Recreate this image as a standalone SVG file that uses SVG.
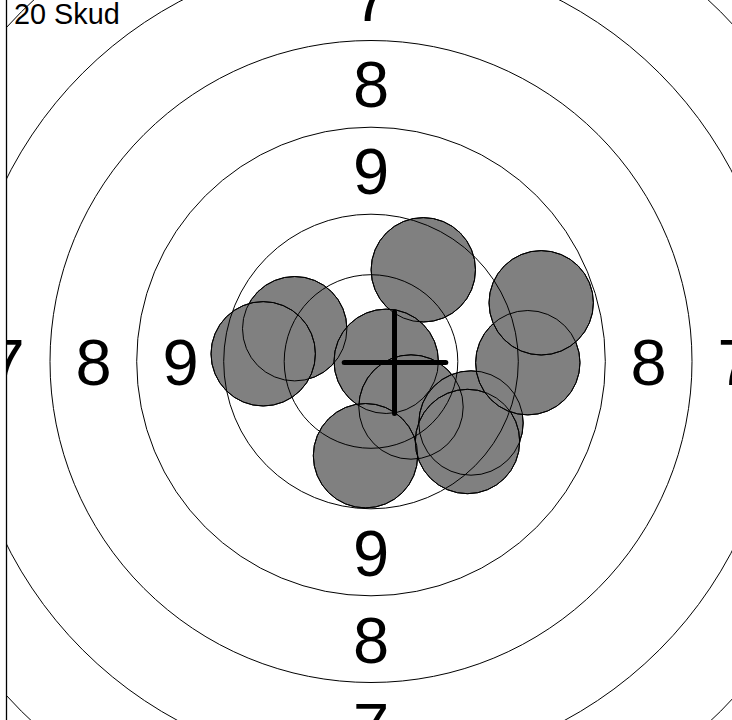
<svg xmlns="http://www.w3.org/2000/svg" width="732" height="720" viewBox="0 0 732 720">
<style>
.lbl{font-family:"Liberation Sans",Arial,sans-serif;font-size:65px;fill:#000;text-anchor:middle}
.ring{fill:none;stroke:#000;stroke-width:1}
.shot{fill:#808080;stroke:#000;stroke-width:1}
.cross{stroke:#000;stroke-width:5;stroke-linecap:round}
</style>
<defs>
<clipPath id="clip"><rect x="7" y="0" width="725" height="720"/></clipPath>
</defs>
<rect x="0" y="0" width="732" height="720" fill="#fff"/>
<g clip-path="url(#clip)">
<g id="labels">
<text class="lbl" x="371" y="20.8">7</text>
<text class="lbl" x="371" y="107.1">8</text>
<text class="lbl" x="371" y="193.8">9</text>
<text class="lbl" x="371" y="575.8">9</text>
<text class="lbl" x="371" y="662.5">8</text>
<text class="lbl" x="371" y="749.3">7</text>
<text class="lbl" x="6.5" y="384.8">7</text>
<text class="lbl" x="93.5" y="384.8">8</text>
<text class="lbl" x="180.5" y="384.8">9</text>
<text class="lbl" x="561.5" y="384.8">9</text>
<text class="lbl" x="648.5" y="384.8">8</text>
<text class="lbl" x="735.5" y="384.8">7</text>
</g>
<g id="shots">
<circle class="shot" cx="423.3" cy="269.8" r="52.2"/>
<circle class="shot" cx="294.7" cy="328.7" r="52.2"/>
<circle class="shot" cx="263.2" cy="353.8" r="52.2"/>
<circle class="shot" cx="386.2" cy="361.3" r="52.2"/>
<circle class="shot" cx="411" cy="407" r="52.2"/>
<circle class="shot" cx="365.5" cy="455.7" r="52.2"/>
<circle class="shot" cx="471" cy="423" r="52.2"/>
<circle class="shot" cx="467.5" cy="441.5" r="52.2"/>
<circle class="shot" cx="527.8" cy="362.7" r="52.2"/>
<circle class="shot" cx="541.2" cy="302.8" r="52.2"/>
</g>
<g id="shot-outlines" fill="none" stroke="#000" stroke-width="1">
<circle cx="423.3" cy="269.8" r="52.2"/>
<circle cx="294.7" cy="328.7" r="52.2"/>
<circle cx="263.2" cy="353.8" r="52.2"/>
<circle cx="386.2" cy="361.3" r="52.2"/>
<circle cx="411" cy="407" r="52.2"/>
<circle cx="365.5" cy="455.7" r="52.2"/>
<circle cx="471" cy="423" r="52.2"/>
<circle cx="467.5" cy="441.5" r="52.2"/>
<circle cx="527.8" cy="362.7" r="52.2"/>
<circle cx="541.2" cy="302.8" r="52.2"/>
</g>
<g id="rings">
<circle class="ring" cx="371" cy="361.5" r="86.8"/>
<circle class="ring" cx="371" cy="361.5" r="147.3"/>
<circle class="ring" cx="371" cy="361.5" r="234.3"/>
<circle class="ring" cx="371" cy="361.5" r="321"/>
<circle class="ring" cx="371" cy="361.5" r="407.8"/>
<circle class="ring" cx="371" cy="361.5" r="494.5"/>
</g>
<g id="crosshair">
<line class="cross" x1="344.2" y1="362.4" x2="445.8" y2="362.4"/>
<line class="cross" x1="394.5" y1="311.8" x2="394.5" y2="413.5"/>
</g>
</g>
<line x1="6.5" y1="0" x2="6.5" y2="720" stroke="#000" stroke-width="1.3"/>
<text x="14" y="23.5" font-family="'Liberation Sans',Arial,sans-serif" font-size="28.8" fill="#000">20 Skud</text>
</svg>
